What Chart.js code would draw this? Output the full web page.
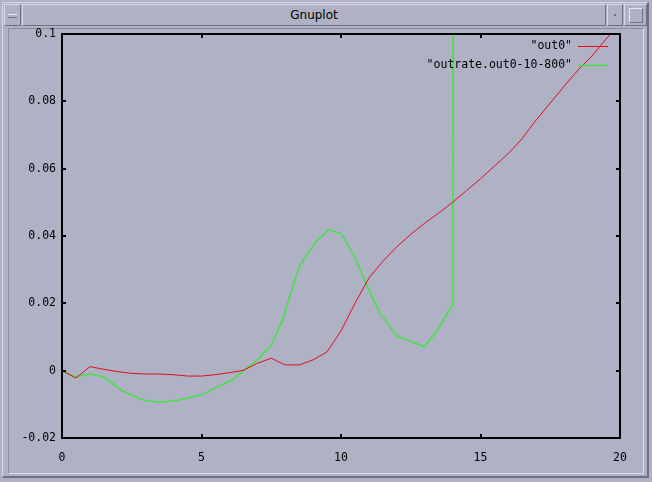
<!DOCTYPE html>
<html>
<head>
<meta charset="utf-8">
<script src="https://cdn.jsdelivr.net/npm/chart.js@4"></script>
<style>
  html, body { margin: 0; padding: 0; width: 652px; height: 482px; overflow: hidden; background: #aeb2c4; }
  #c { position: absolute; left: 0; top: 0; }
  .frame { position: absolute; box-sizing: border-box; }
  #outer { left: 2px; top: 2px; width: 647px; height: 476px; border-top: 1px solid #d6d9e6; border-left: 1px solid #d6d9e6; border-right: 2px solid #6e7180; border-bottom: 2px solid #6e7180; }
  #inner { left: 8px; top: 28px; width: 636px; height: 446px; border-top: 1px solid #8a8d9c; border-left: 1px solid #8a8d9c; border-right: 1px solid #dcdfea; border-bottom: 1px solid #dcdfea; }
  #title { left: 22px; top: 4px; width: 584px; height: 22px; border-top: 1px solid #d6d9e6; border-left: 1px solid #d6d9e6; border-right: 1px solid #6e7180; border-bottom: 1px solid #6e7180;
           font-family: 'DejaVu Sans', sans-serif; font-size: 12px; color: #000; text-align: center; line-height: 20px; }
  #btnl { left: 4px; top: 4px; width: 17px; height: 22px; border-top: 1px solid #d6d9e6; border-left: 1px solid #d6d9e6; border-right: 1px solid #6e7180; border-bottom: 1px solid #6e7180; }
  #btnl div { position: absolute; left: 3px; top: 9px; width: 9px; height: 2px; border-top: 1px solid #e6e8f0; border-bottom: 1px solid #6e7180; }
  #btnr1 { left: 607px; top: 4px; width: 16px; height: 22px; border-top: 1px solid #d6d9e6; border-left: 1px solid #d6d9e6; border-right: 1px solid #6e7180; border-bottom: 1px solid #6e7180; }
  #btnr1 div { position: absolute; left: 6px; top: 9px; width: 2px; height: 2px; background: #6e7180; }
  #btnr2 { left: 624px; top: 4px; width: 23px; height: 22px; border-top: 1px solid #d6d9e6; border-left: 1px solid #d6d9e6; border-right: 1px solid #6e7180; border-bottom: 1px solid #6e7180; }
  #btnr2 div { position: absolute; left: 4px; top: 3px; width: 12px; height: 13px; border-top: 1px solid #e6e8f0; border-left: 1px solid #e6e8f0; border-right: 1px solid #6e7180; border-bottom: 1px solid #6e7180; }
</style>
</head>
<body>
<div class="frame" id="outer"></div>
<div class="frame" id="inner"></div>
<div class="frame" id="btnl"><div></div></div>
<div class="frame" id="title">Gnuplot</div>
<div class="frame" id="btnr1"><div></div></div>
<div class="frame" id="btnr2"><div></div></div>
<canvas id="c" width="652" height="482"></canvas>
<script>
// ---- data ----
const seriesNames = ['"out0"', '"outrate.out0-10-800"'];

const out0X = [0, 0.5, 1, 1.5, 2, 2.5, 3, 3.5, 4, 4.5, 5, 5.5, 6, 6.5, 7, 7.5, 8, 8.5, 9, 9.5,
               10, 10.5, 11, 11.5, 12, 12.5, 13, 13.5, 14, 14.5, 15, 15.5, 16, 16.5, 17, 17.5, 18, 18.5, 19, 19.5, 20];
const out0Y = [0, -0.0022, 0.0012, 0.0004, -0.0003, -0.0008, -0.001, -0.001, -0.0012, -0.0016, -0.0016, -0.0012, -0.0006, 0.0001, 0.0022, 0.0037, 0.0017, 0.0017, 0.0032, 0.0056,
               0.0118, 0.0200, 0.0275, 0.0325, 0.0368, 0.0405, 0.0438, 0.0468, 0.0500, 0.0535, 0.0570, 0.0608, 0.0645, 0.0690, 0.0745, 0.0795, 0.0845, 0.0893, 0.0935, 0.0985, 0.1030];

const rateX = [0, 0.5, 1, 1.5, 2.2, 2.9, 3.5, 4.2, 5, 5.6, 6.1, 6.4, 7, 7.5, 7.9, 8.5, 9.1, 9.55, 10, 10.45, 11, 11.4, 12, 13, 13.5, 14, 14.01, 14.03];
const rateY = [0, -0.0019, -0.001, -0.0019, -0.0062, -0.0087, -0.0094, -0.0087, -0.0072, -0.0047, -0.0027, -0.0008, 0.0032, 0.0075, 0.015, 0.0309, 0.0383, 0.0418, 0.0408, 0.0345, 0.024, 0.017, 0.0103, 0.0071, 0.0126, 0.0196, 0.06, 0.6];

const xTicks = [0, 5, 10, 15, 20];
const yTicks = [-0.02, 0, 0.02, 0.04, 0.06, 0.08, 0.1];
const xTickLabels = ['0', '5', '10', '15', '20'];
const yTickLabels = ['-0.02', '0', '0.02', '0.04', '0.06', '0.08', '0.1'];

const colors = ['rgb(230,10,30)', 'rgb(70,225,70)'];
const FONT = "'DejaVu Sans Mono', monospace";

const toPts = (xs, ys) => xs.map((x, i) => ({x: x, y: ys[i]}));

const gnuplotFrame = {
  id: 'gnuplotFrame',
  afterDatasetsDraw(chart) {
    const {ctx, chartArea: a, scales} = chart;
    ctx.save();
    ctx.strokeStyle = '#000';
    ctx.lineWidth = 2;
    ctx.strokeRect(a.left, a.top, a.right - a.left, a.bottom - a.top);
    ctx.lineWidth = 2;
    ctx.beginPath();
    const tl = 4;
    xTicks.forEach(v => {
      if (v === 0 || v === 20) return;
      const px = Math.round(scales.x.getPixelForValue(v));
      ctx.moveTo(px, a.bottom); ctx.lineTo(px, a.bottom - tl);
      ctx.moveTo(px, a.top); ctx.lineTo(px, a.top + tl);
    });
    yTicks.forEach(v => {
      if (v === -0.02 || v === 0.1) return;
      const py = Math.round(scales.y.getPixelForValue(v));
      ctx.moveTo(a.left, py); ctx.lineTo(a.left + tl, py);
      ctx.moveTo(a.right, py); ctx.lineTo(a.right - tl, py);
    });
    ctx.stroke();
    // legend (gnuplot style, inside top right)
    ctx.font = '11.5px ' + FONT;
    ctx.textAlign = 'right';
    ctx.textBaseline = 'middle';
    ctx.fillStyle = '#000';
    const rows = [46, 65];
    seriesNames.forEach((name, i) => {
      ctx.fillText(name, 572, rows[i]);
      ctx.strokeStyle = colors[i];
      ctx.lineWidth = i === 0 ? 1 : 1.5;
      ctx.beginPath();
      ctx.moveTo(578, rows[i] + 0.5); ctx.lineTo(608, rows[i] + 0.5);
      ctx.stroke();
    });
    ctx.restore();
  }
};

new Chart(document.getElementById('c'), {
  type: 'line',
  data: {
    datasets: [
      { label: seriesNames[0], data: toPts(out0X, out0Y), borderColor: colors[0], borderWidth: 1, pointRadius: 0, fill: false, tension: 0 },
      { label: seriesNames[1], data: toPts(rateX, rateY), borderColor: colors[1], borderWidth: 1.5, pointRadius: 0, fill: false, tension: 0 }
    ]
  },
  options: {
    responsive: false,
    animation: false,
    devicePixelRatio: 1,
    layout: { padding: { left: 0, top: 34, right: 32, bottom: 0 } },
    plugins: { legend: { display: false }, tooltip: { enabled: false } },
    scales: {
      x: {
        type: 'linear', min: 0, max: 20,
        afterBuildTicks: s => { s.ticks = xTicks.map(v => ({value: v})); },
        afterFit: s => { s.height = 44; },
        ticks: { padding: 13, color: '#000', font: { family: FONT, size: 11.5 },
                 callback: (v) => xTickLabels[xTicks.indexOf(v)] },
        grid: { display: false, drawTicks: false },
        border: { display: false }
      },
      y: {
        type: 'linear', min: -0.02, max: 0.1,
        afterBuildTicks: s => { s.ticks = yTicks.map(v => ({value: v})); },
        afterFit: s => { s.width = 62; },
        ticks: { padding: 6, color: '#000', font: { family: FONT, size: 11.5 },
                 callback: (v) => yTickLabels[yTicks.findIndex(t => Math.abs(t - v) < 1e-9)] },
        grid: { display: false, drawTicks: false },
        border: { display: false }
      }
    }
  },
  plugins: [gnuplotFrame]
});
</script>
</body>
</html>
